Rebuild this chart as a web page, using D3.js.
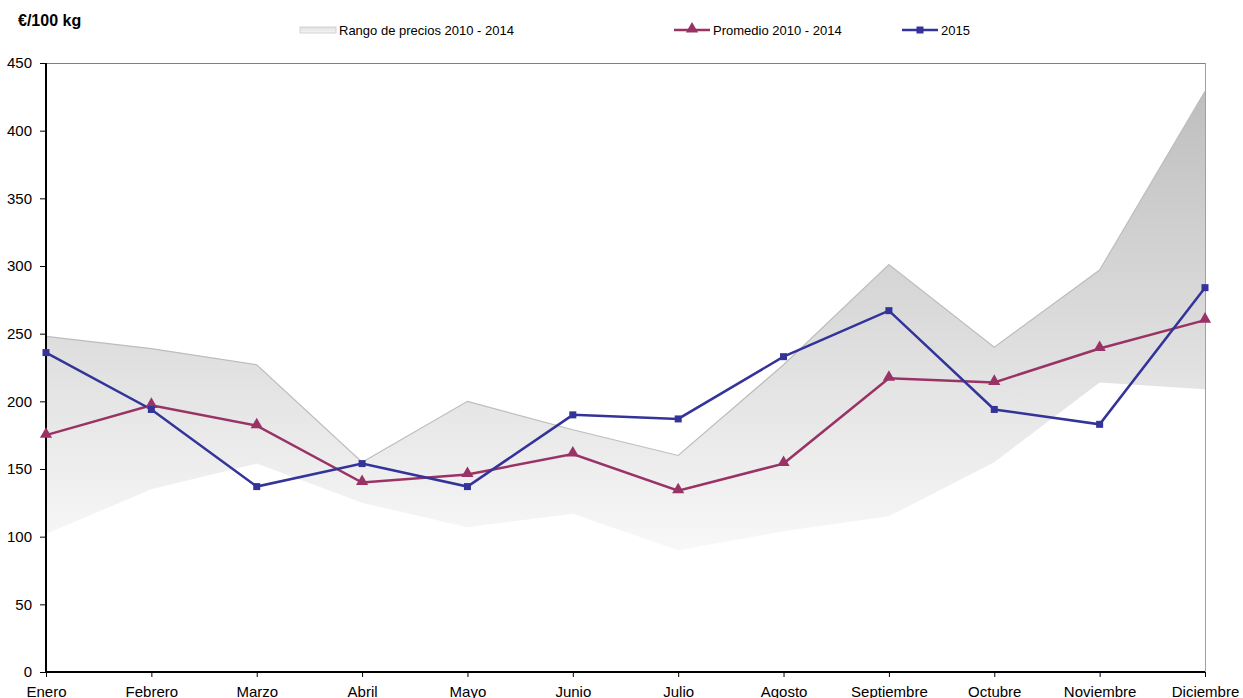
<!DOCTYPE html>
<html>
<head>
<meta charset="utf-8">
<script src="https://cdn.jsdelivr.net/npm/d3@7"></script>
<style>
  body { margin: 0; background: #fff; }
  svg { display: block; font-family: "Liberation Sans", Arial, sans-serif; }
</style>
</head>
<body>
<div id="chart"></div>
<script>
// datos
const meses = ["Enero", "Febrero", "Marzo", "Abril", "Mayo", "Junio", "Julio", "Agosto", "Septiembre", "Octubre", "Noviembre", "Diciembre"];
const rangoMax = [248, 239, 227, 155, 200, 179, 160, 227, 301, 240, 297, 429];
const rangoMin = [102, 135, 154, 125, 107, 117, 90, 104, 115, 155, 214, 209];
const promedio = [175, 197, 182, 140, 146, 161, 134, 154, 217, 214, 239, 260];
const serie2015 = [236, 194, 137, 154, 137, 190, 187, 233, 267, 194, 183, 284];
const yTicks = [0, 50, 100, 150, 200, 250, 300, 350, 400, 450];

const W = 1243, H = 698;
const area0 = { left: 46, right: 1205, top: 63, bottom: 672 };

const svg = d3.select("#chart").append("svg")
  .attr("width", W).attr("height", H);

const x = d3.scalePoint().domain(meses).range([area0.left, area0.right]);
const y = d3.scaleLinear().domain([0, 450]).range([area0.bottom, area0.top]);

// degradado del rango
const defs = svg.append("defs");
const grad = defs.append("linearGradient")
  .attr("id", "gradRango")
  .attr("gradientUnits", "userSpaceOnUse")
  .attr("x1", 0).attr("x2", 0)
  .attr("y1", y(430)).attr("y2", y(90));
grad.append("stop").attr("offset", 0).attr("stop-color", "#bebebe");
grad.append("stop").attr("offset", 1).attr("stop-color", "#f8f8f8");

const gradLeg = defs.append("linearGradient")
  .attr("id", "gradLeg").attr("x1", 0).attr("x2", 0).attr("y1", 0).attr("y2", 1);
gradLeg.append("stop").attr("offset", 0).attr("stop-color", "#e0e0e0");
gradLeg.append("stop").attr("offset", 1).attr("stop-color", "#f6f6f6");

// marco superior y derecho
svg.append("line")
  .attr("x1", area0.left).attr("x2", area0.right)
  .attr("y1", area0.top + 0.5).attr("y2", area0.top + 0.5)
  .attr("stroke", "#808080").attr("stroke-width", 1);
svg.append("line")
  .attr("x1", area0.right + 0.5).attr("x2", area0.right + 0.5)
  .attr("y1", area0.top).attr("y2", area0.bottom)
  .attr("stroke", "#a0a0a0").attr("stroke-width", 1);

// área de rango
const area = d3.area()
  .x((d, i) => x(meses[i]))
  .y0((d, i) => y(rangoMin[i]))
  .y1((d, i) => y(rangoMax[i]));
svg.append("path")
  .datum(rangoMax)
  .attr("d", area)
  .attr("fill", "url(#gradRango)");

svg.append("path")
  .datum(rangoMax)
  .attr("d", d3.line().x((d, i) => x(meses[i])).y(d => y(d)))
  .attr("fill", "none")
  .attr("stroke", "#bdbdbd")
  .attr("stroke-width", 1.2);

// ejes
const yAxis = svg.append("g")
  .attr("transform", `translate(${area0.left},0)`)
  .call(d3.axisLeft(y).tickValues(yTicks).tickSize(6).tickPadding(8));
yAxis.select(".domain").remove();
yAxis.selectAll(".tick line").attr("stroke", "#000");
yAxis.selectAll("text").style("font-size", "15px").attr("fill", "#000");

svg.append("line")
  .attr("x1", area0.left).attr("x2", area0.left)
  .attr("y1", area0.top).attr("y2", area0.bottom + 1)
  .attr("stroke", "#000").attr("stroke-width", 2);

const xAxis = svg.append("g")
  .attr("transform", `translate(0,${area0.bottom})`)
  .call(d3.axisBottom(x).tickSize(5).tickPadding(9));
xAxis.select(".domain").remove();
xAxis.selectAll(".tick line").attr("stroke", "#000");
xAxis.selectAll("text").style("font-size", "15px").attr("fill", "#000");

svg.append("line")
  .attr("x1", area0.left - 1).attr("x2", area0.right)
  .attr("y1", area0.bottom).attr("y2", area0.bottom)
  .attr("stroke", "#000").attr("stroke-width", 2);

// líneas
const colProm = "#993366", col2015 = "#333399";
const linea = d3.line().x((d, i) => x(meses[i])).y(d => y(d));

svg.append("path").datum(promedio).attr("d", linea)
  .attr("fill", "none").attr("stroke", colProm).attr("stroke-width", 2.5);
svg.append("path").datum(serie2015).attr("d", linea)
  .attr("fill", "none").attr("stroke", col2015).attr("stroke-width", 2.5);

const tri = d3.symbol().type(d3.symbolTriangle).size(64);
svg.selectAll(".tri").data(promedio).enter().append("path")
  .attr("class", "tri")
  .attr("d", tri)
  .attr("transform", (d, i) => `translate(${x(meses[i])},${y(d) - 1})`)
  .attr("fill", colProm);

svg.selectAll(".sq").data(serie2015).enter().append("rect")
  .attr("class", "sq")
  .attr("x", (d, i) => x(meses[i]) - 3.5)
  .attr("y", d => y(d) - 3.5)
  .attr("width", 7).attr("height", 7)
  .attr("fill", col2015);

// título
svg.append("text")
  .attr("x", 18).attr("y", 26)
  .style("font-size", "16px").style("font-weight", "bold")
  .text("€/100 kg");

// leyenda
const ly = 30;
svg.append("rect")
  .attr("x", 300).attr("y", ly - 3).attr("width", 36).attr("height", 6)
  .attr("fill", "url(#gradLeg)").attr("stroke", "#c8c8c8").attr("stroke-width", 0.8);
svg.append("text").attr("x", 339).attr("y", ly + 4.5)
  .style("font-size", "13px").text("Rango de precios 2010 - 2014");

svg.append("line").attr("x1", 674).attr("x2", 710).attr("y1", ly).attr("y2", ly)
  .attr("stroke", colProm).attr("stroke-width", 2.5);
svg.append("path").attr("d", tri).attr("transform", `translate(692,${ly - 1})`).attr("fill", colProm);
svg.append("text").attr("x", 713).attr("y", ly + 4.5)
  .style("font-size", "13px").text("Promedio 2010 - 2014");

svg.append("line").attr("x1", 902).attr("x2", 938).attr("y1", ly).attr("y2", ly)
  .attr("stroke", col2015).attr("stroke-width", 2.5);
svg.append("rect").attr("x", 916.5).attr("y", ly - 3.5).attr("width", 7).attr("height", 7).attr("fill", col2015);
svg.append("text").attr("x", 941).attr("y", ly + 4.5)
  .style("font-size", "13px").text("2015");
</script>
</body>
</html>
